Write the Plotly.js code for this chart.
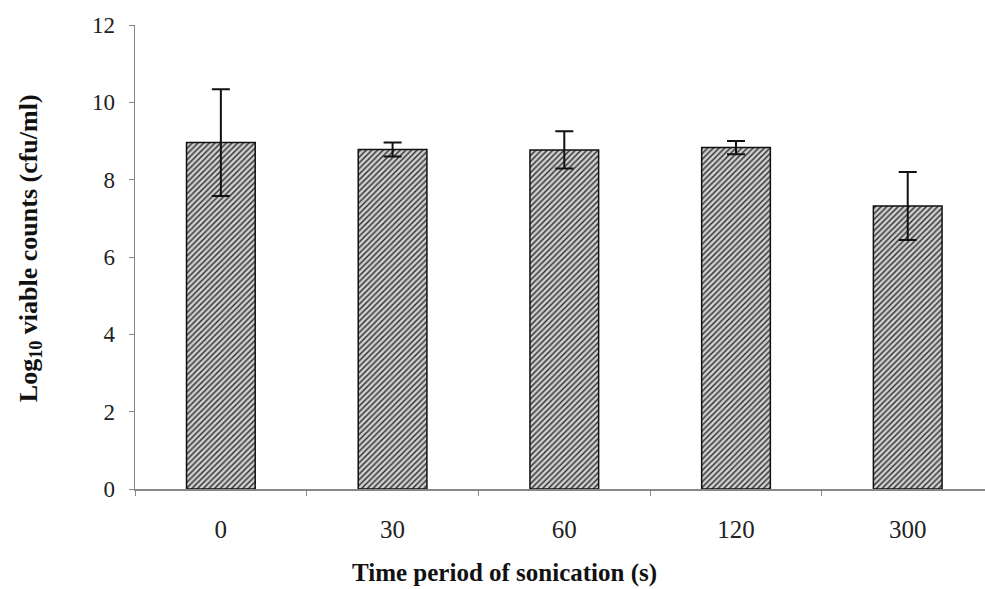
<!DOCTYPE html>
<html>
<head>
<meta charset="utf-8">
<script src="https://cdn.plot.ly/plotly-3.0.1.min.js"></script>
<style>html,body{margin:0;padding:0;background:#fff;}#chart{width:985px;height:589px;}</style>
</head>
<body>
<div id="chart"></div>
<script>
const categories = ["0", "30", "60", "120", "300"];
const meanLog = [8.96, 8.78, 8.77, 8.83, 7.32];
const sdLog = [1.38, 0.18, 0.48, 0.17, 0.88];
const yTicks = [0, 2, 4, 6, 8, 10, 12];
const xTitle = "Time period of sonication (s)";
const yTitle = "Log<sub>10</sub> viable counts (cfu/ml)";

const trace = {
  type: "bar",
  x: categories,
  y: meanLog,
  width: 0.4,
  marker: {
    color: "#bdbdbd",
    line: {color: "#111", width: 1.5},
    pattern: {shape: "/", fgcolor: "#2a2a2a", bgcolor: "#cfcfcf", size: 4, solidity: 0.35}
  },
  error_y: {type: "data", array: sdLog, visible: true, color: "#111", thickness: 2, width: 9},
  hoverinfo: "none"
};

const serif = "Liberation Serif, Times New Roman, serif";
const layout = {
  width: 985, height: 589,
  margin: {l: 135, r: 0, t: 25, b: 100},
  paper_bgcolor: "#fff", plot_bgcolor: "#fff",
  showlegend: false,
  font: {family: serif, color: "#222", size: 20},
  xaxis: {
    type: "category",
    range: [-0.5, 4.45],
    showline: true, linecolor: "#888", linewidth: 1.5,
    ticks: "outside", tickson: "boundaries", ticklen: 5, tickcolor: "#888",
    ticklabelstandoff: 17,
    tickfont: {family: serif, size: 25, color: "#222"},
    showgrid: false, zeroline: false
  },
  yaxis: {
    range: [0, 12],
    tickvals: yTicks,
    showline: true, linecolor: "#888", linewidth: 1.5,
    ticks: "outside", ticklen: 5, tickcolor: "#888",
    ticklabelstandoff: 9,
    tickfont: {family: serif, size: 23, color: "#222"},
    showgrid: false, zeroline: false
  },
  annotations: [
    {text: "<b>" + xTitle + "</b>", xref: "paper", yref: "paper", x: 0.435, y: -0.181,
     xanchor: "center", yanchor: "middle", showarrow: false,
     font: {family: serif, size: 25, color: "#111"}},
    {text: "<b>" + yTitle + "</b>", xref: "paper", yref: "paper", x: -0.1235, y: 0.519,
     xanchor: "center", yanchor: "middle", textangle: -90, showarrow: false,
     font: {family: serif, size: 26, color: "#111"}}
  ]
};

Plotly.newPlot("chart", [trace], layout, {staticPlot: true, displayModeBar: false});
</script>
</body>
</html>
